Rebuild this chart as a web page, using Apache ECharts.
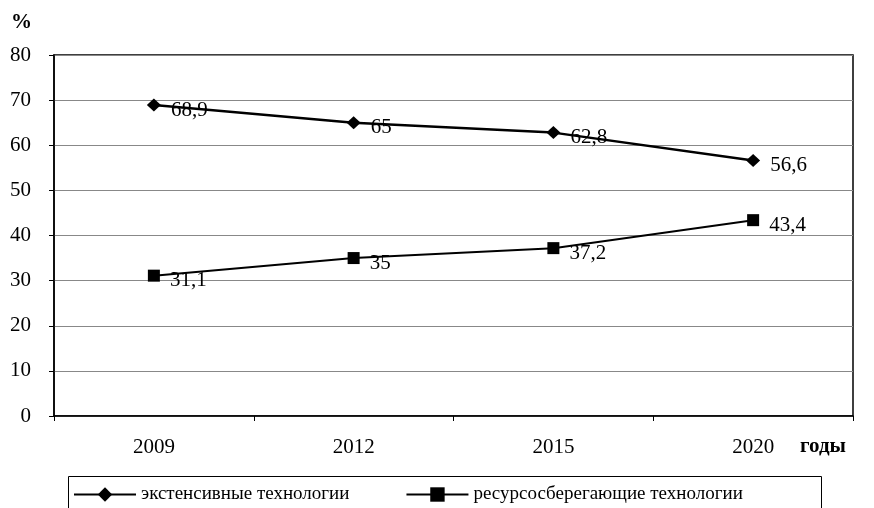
<!DOCTYPE html>
<html><head><meta charset="utf-8">
<script src="https://cdn.jsdelivr.net/npm/echarts@6/dist/echarts.min.js"></script>
<style>html,body{margin:0;padding:0;background:#fff}#c{width:874px;height:508px}</style>
</head><body><div id="c"></div>
<script>
const categories = ['2009','2012','2015','2020'];
const extensive = [68.9, 65, 62.8, 56.6];
const resource = [31.1, 35, 37.2, 43.4];
const yTicks = [0,10,20,30,40,50,60,70,80];
const seriesNames = ['экстенсивные технологии','ресурсосберегающие технологии'];
const FONT = '"Liberation Serif","DejaVu Serif",serif';
const fmt = v => String(v).replace('.', ',');
const chart = echarts.init(document.getElementById('c'));
const labelCfg = {show:true, position:'right', distance:10, offset:[0,5],
  formatter:p=>fmt(p.value), fontFamily:FONT, fontSize:21, color:'#000'};
chart.setOption({
  animation:false,
  grid:{left:54, right:21, top:55, bottom:92, show:true, borderColor:'#000', borderWidth:1.5},
  xAxis:{type:'category', data:categories, boundaryGap:true,
    axisLine:{lineStyle:{color:'#000', width:1.5}},
    axisTick:{show:true, inside:false, length:5, lineStyle:{color:'#000'}},
    axisLabel:{fontFamily:FONT, fontSize:21, color:'#000', margin:21}},
  yAxis:{type:'value', min:yTicks[0], max:yTicks[yTicks.length-1], interval:10,
    axisLine:{show:true, lineStyle:{color:'#000', width:1.5}},
    axisTick:{show:true, length:5, lineStyle:{color:'#000'}},
    splitLine:{lineStyle:{color:'#888', width:1.2}},
    axisLabel:{fontFamily:FONT, fontSize:21, color:'#000', margin:23}},
  legend:{left:68, top:480, itemWidth:62, itemHeight:18, itemGap:56,
    textStyle:{fontFamily:FONT, fontSize:19, color:'#000'},
    data:seriesNames},
  graphic:[
    {type:'rect', left:66, top:474, shape:{width:753, height:50}, style:{fill:'none', stroke:'#000', lineWidth:1}},
    {type:'text', left:11, top:12, style:{text:'%', font:'bold 21px '+FONT, fill:'#000'}},
    {type:'text', left:800, top:436, style:{text:'годы', font:'bold 21px '+FONT, fill:'#000'}}
  ],
  series:[
    {name:seriesNames[0], type:'line', data:extensive, symbol:'diamond', symbolSize:[14,13],
      lineStyle:{color:'#000', width:2.5}, itemStyle:{color:'#000'}, label:labelCfg},
    {name:seriesNames[1], type:'line', data:resource, symbol:'rect', symbolSize:[12,12],
      lineStyle:{color:'#000', width:2}, itemStyle:{color:'#000'}, label:labelCfg}
  ]
});
</script></body></html>
